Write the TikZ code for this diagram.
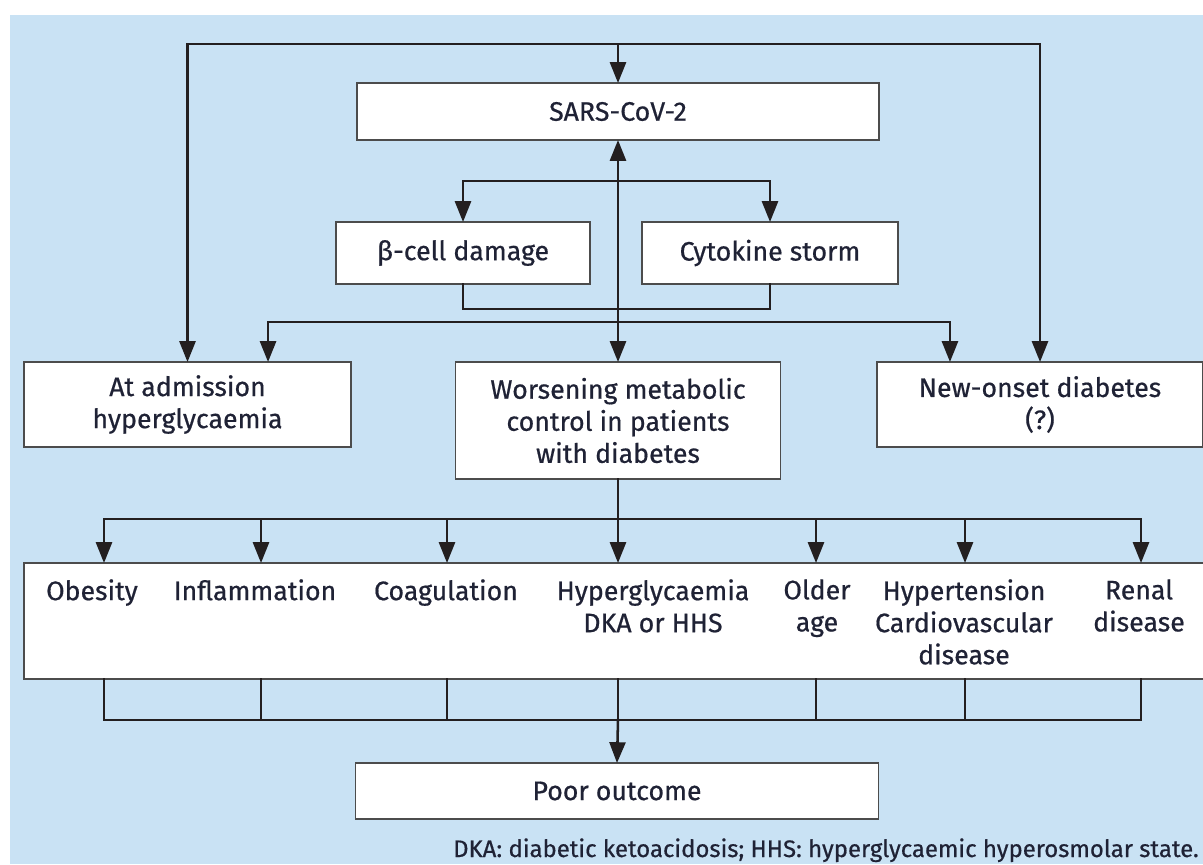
\documentclass[tikz,border=0pt]{standalone}
\usepackage{fontspec}
\setmainfont{Fira Sans}[FakeBold=0.6]
\usetikzlibrary{arrows.meta,positioning,calc}
\definecolor{bgblue}{HTML}{C9E2F4}
\definecolor{linecol}{HTML}{231F20}
\definecolor{textcol}{HTML}{1F2235}

\begin{document}
\begin{tikzpicture}[x=0.025cm, y=-0.025cm,
  box/.style={draw=black!70, line width=1.1pt, fill=white, inner sep=0pt,
    outer sep=0pt, align=center, text=textcol,
    font=\fontsize{19}{22.8}\selectfont},
  lbl/.style={inner sep=0pt, align=center, text=textcol,
    font=\fontsize{19}{22.8}\selectfont},
  link/.style={line width=1.8pt, draw=linecol, line cap=rect},
  arr/.style={link, -{Triangle[length=0.52cm, width=0.4cm]}},
  arrboth/.style={link, {Triangle[length=0.52cm, width=0.4cm]}-{Triangle[length=0.52cm, width=0.4cm]}}
]
  \useasboundingbox (0,0) rectangle (1203,864);
  \fill[bgblue] (10,15) rectangle (1203,864);

  % boxes
  \node[box, minimum width=13.05cm, minimum height=1.425cm] (sars) at (618,111.5) {SARS-CoV-2};
  \node[box, minimum width=6.35cm, minimum height=1.55cm] (beta) at (463,253) {β-cell damage};
  \node[box, minimum width=6.4cm, minimum height=1.55cm] (cyto) at (770,253) {Cytokine storm};
  \node[box, minimum width=8.175cm, minimum height=2.125cm] (adm) at (187.5,404.5)
    {At admission\\hyperglycaemia};
  \node[box, minimum width=8.125cm, minimum height=2.925cm] (worse) at (618,420.5)
    {Worsening metabolic\\control in patients\\with diabetes};
  \node[box, minimum width=8.15cm, minimum height=2.125cm] (onset) at (1040,404.5)
    {New-onset diabetes\\(?)};
  \node[box, minimum width=29.5cm, minimum height=2.9cm] (risk) at (614,621) {};
  \node[box, minimum width=13.075cm, minimum height=1.4cm] (poor) at (617,791) {Poor outcome};

  % risk factors
  \node[lbl, anchor=north] (obes) at (92,579) {Obesity};
  \node[lbl, anchor=north] (infl) at (255,579) {Inflammation};
  \node[lbl, anchor=north] (coag) at (446,579) {Coagulation};
  \node[lbl, anchor=north] (hypergly) at (653,579) {Hyperglycaemia\\DKA or HHS};
  \node[lbl, anchor=north] (older) at (817,579) {Older\\age};
  \node[lbl, anchor=north] (hypert) at (964,579) {Hypertension\\Cardiovascular\\disease};
  \node[lbl, anchor=north] (renal) at (1139,579) {Renal\\disease};

  % top loop
  \coordinate (toploop) at (618,44);
  \draw[arr] (toploop) -- (sars.north);
  \draw[arr] (toploop) -| (adm.north);
  \draw[arr] (toploop) -| (onset.north);

  % SARS-CoV-2 <-> worsening control
  \draw[arrboth] (sars.south) -- (worse.north);

  % beta-cell damage and cytokine storm
  \coordinate (fork) at (618,181);
  \draw[arr] (fork) -| (beta.north);
  \draw[arr] (fork) -| (cyto.north);
  \draw[link] (beta.south) -- ++(0,25) -| (cyto.south);

  % to admission / new-onset
  \coordinate (mid) at (618,322);
  \coordinate (admin) at ($(adm.north east)+(-83,0)$);
  \coordinate (onin) at ($(onset.north west)+(73,0)$);
  \draw[arr] (mid) -| (admin);
  \draw[arr] (mid) -| (onin);

  % risk factor columns
  \coordinate (split) at (618,519);
  \coordinate (join) at (618,720);
  \draw[link] (worse.south) -- (split);
  \foreach \n/\x in {a/104, b/261, c/447, d/618, e/816, f/965, g/1141}{
    \coordinate (c\n) at (\x,519);
    \draw[arr] (c\n) -- (c\n |- risk.north);
    \draw[link] (c\n |- risk.south) -- (c\n |- join);
  }
  \draw[link] (ca) -- (cg);
  \draw[link] (ca |- join) -- (cg |- join);
  \draw[arr] (join) -- (poor.north);

  \node[anchor=base east, text=textcol, inner sep=0pt,
    font=\fontsize{17}{19}\selectfont] (note) at (1199,857)
    {DKA: diabetic ketoacidosis; HHS: hyperglycaemic hyperosmolar state.};
\end{tikzpicture}
\end{document}
